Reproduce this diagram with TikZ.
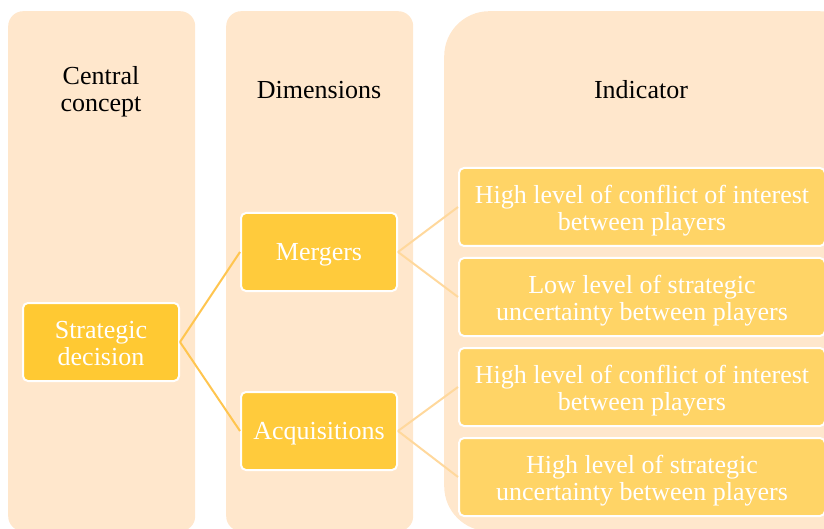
\documentclass[tikz,border=0pt]{standalone}
\usepackage{fontspec}
\setmainfont{Liberation Serif}
\usetikzlibrary{positioning}

\definecolor{colbg}{HTML}{FFE7CC}
\definecolor{conceptfill}{HTML}{FFC933}
\definecolor{dimfill}{HTML}{FFCB3C}
\definecolor{indfill}{HTML}{FFD466}
\definecolor{linkdark}{HTML}{FFC54F}
\definecolor{linklight}{HTML}{FFD89C}

% taller first line for two-line boxes
\newcommand{\boxstrut}{\rule{0pt}{25pt}}

\begin{document}
\begin{tikzpicture}[
    x=1pt, y=-1pt,
    column/.style={rectangle, rounded corners=15pt, fill=colbg, inner sep=0pt, anchor=north west},
    header/.style={text centered, align=center, font=\fontsize{26}{27}\selectfont},
    concept/.style={rectangle, rounded corners=5pt, draw=white, line width=2pt, fill=conceptfill, text=white, align=center, minimum width=156pt, minimum height=78pt, font=\fontsize{26}{27}\selectfont,
        execute at begin node={\rule{0pt}{0.891em}}, execute at end node={\rule[-0.216em]{0pt}{0.216em}}},
    dimension/.style={concept, fill=dimfill},
    indicator/.style={concept, fill=indfill, minimum width=366pt},
    link/.style={line width=2pt, draw=linkdark},
    sublink/.style={line width=2pt, draw=linklight}
]
\useasboundingbox (0,0) rectangle (824,529);

% Columns
\node[column, minimum width=187pt, minimum height=520pt] (col1) at (8,11) {};
\node[column, minimum width=187pt, minimum height=520pt] (col2) at (226,11) {};
\node[column, rounded corners=45pt, minimum width=420pt, minimum height=520pt] (col3) at (444,11) {};

% Headers
\node[header] (hconcept) at (101,92) {Central\\concept};
\node[header] (hdim) at (319,90) {Dimensions};
\node[header] (hind) at (641,90) {Indicator};

% Central concept
\node[concept] (strategic) at (101,342) {\boxstrut Strategic\\decision};

% Dimensions
\node[dimension] (mergers) at (319,252) {Mergers};
\node[dimension] (acq) at (319,431) {Acquisitions};

% Indicators
\node[indicator] (ind1) at (642,207) {\boxstrut High level of conflict of interest\\between players};
\node[indicator] (ind2) at (642,297) {\boxstrut Low level of strategic\\uncertainty between players};
\node[indicator] (ind3) at (642,387) {\boxstrut High level of conflict of interest\\between players};
\node[indicator] (ind4) at (642,477) {\boxstrut High level of strategic\\uncertainty between players};

% Links
\draw[link] (strategic.east) -- (mergers.west);
\draw[link] (strategic.east) -- (acq.west);
\draw[sublink] (mergers.east) -- (ind1.west);
\draw[sublink] (mergers.east) -- (ind2.west);
\draw[sublink] (acq.east) -- (ind3.west);
\draw[sublink] (acq.east) -- (ind4.west);

\end{tikzpicture}
\end{document}
